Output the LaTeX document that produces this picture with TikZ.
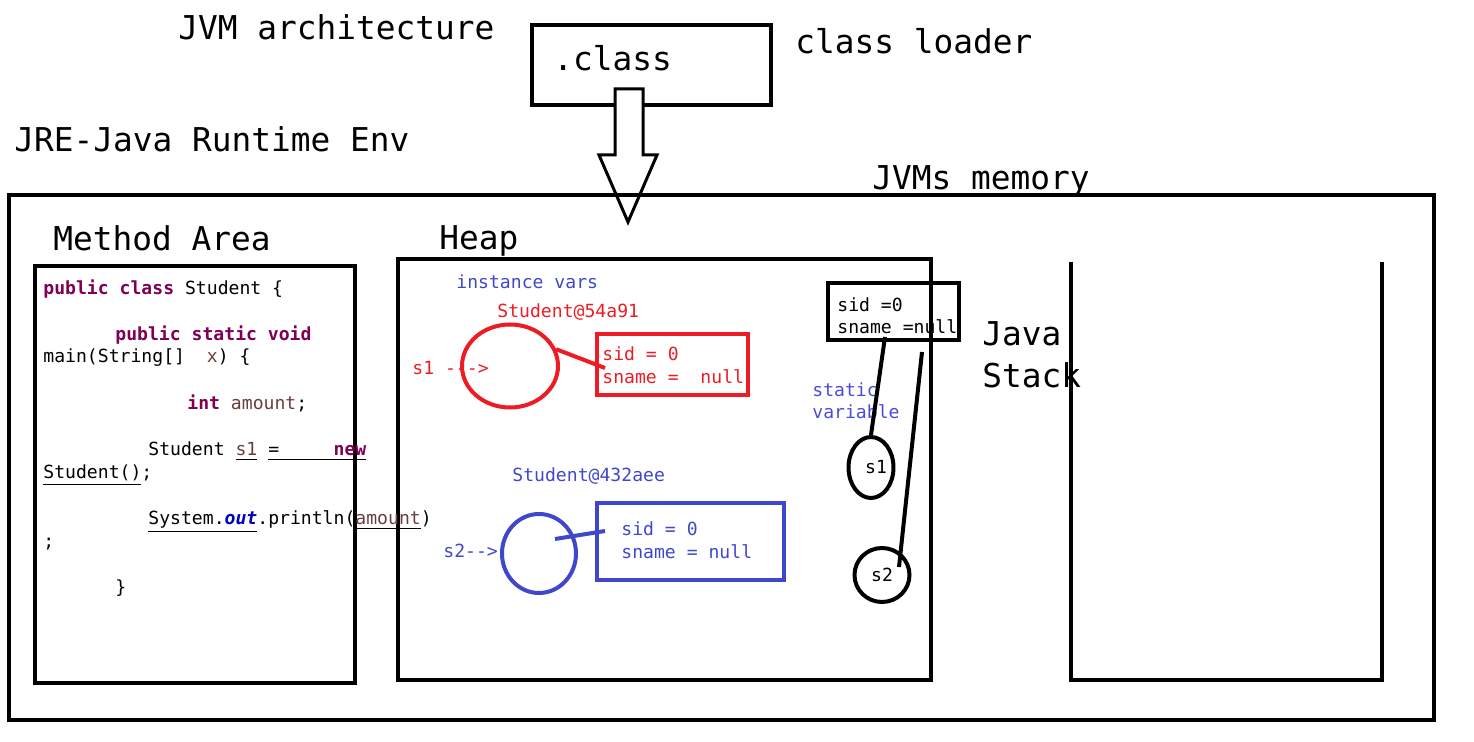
\documentclass[tikz,border=0pt]{standalone}
\usepackage{fontspec}
\setmonofont{DejaVu Sans Mono}
\usetikzlibrary{shapes.geometric, positioning}

\definecolor{heapred}{HTML}{ED1C24}
\definecolor{heapblue}{HTML}{3F48CC}
\definecolor{statblue}{HTML}{4B4BDB}
\definecolor{kwpurple}{HTML}{7F0055}
\definecolor{varbrown}{HTML}{6A3E3E}
\definecolor{fieldblue}{HTML}{0000C0}

\tikzset{
    title/.style={font=\fontsize{16.4}{18}\selectfont\ttfamily, anchor=base west, inner sep=0},
    code/.style={font=\fontsize{9.05}{11.5}\selectfont\ttfamily, anchor=base west, inner sep=0},
    box/.style={draw, line width=2pt, inner sep=0, rectangle},
    obj/.style={draw, line width=2pt, inner sep=0, ellipse},
    link/.style={line width=2pt}
}

\begin{document}
\begin{tikzpicture}[x=0.5pt, y=-0.5pt]
    \useasboundingbox (0,0) rectangle (1474,742);

    % titles
    \node [title] (arch) at (178,40) {JVM architecture};
    \node [title] (jre) at (14,152) {JRE-Java Runtime Env};
    \node [title] (loader) at (795,54) {class loader};
    \node [title] (mem) at (872,190) {JVMs memory};

    % class loader input
    \node [box, minimum width=119.5pt, minimum height=40pt] (classbox) at (651.5,65) {};
    \node [title] (classtxt) at (553,71) {.class};
    \draw [line width=1.5pt, fill=white] (615,89) -- (643,89) -- (643,155) -- (657,155)
        -- (628,222) -- (599,155) -- (615,155) -- cycle;

    % memory areas
    \node [box, minimum width=712.5pt, minimum height=262.5pt] (membox) at (721.5,457.5) {};
    \node [box, minimum width=160pt, minimum height=208.5pt] (methodbox) at (195,474.5) {};
    \node [box, minimum width=266.5pt, minimum height=210.5pt] (heapbox) at (664.5,469.5) {};
    \draw [line width=2pt] (1071,262) -- (1071,680) -- (1382,680) -- (1382,262);
    \node [title] (methodlbl) at (53,251) {Method Area};
    \node [title] (heaplbl) at (439,250) {Heap};
    \node [title] (javalbl) at (982,346) {Java};
    \node [title] (stacklbl) at (982,388) {Stack};

    % source code
    \node [code] (c1) at (43,295) {\textcolor{kwpurple}{\textbf{public class}} Student \{};
    \node [code] (c2) at (115,341) {\textcolor{kwpurple}{\textbf{public static void}}};
    \node [code] (c3) at (43,363) {main(String[]\ \ \textcolor{varbrown}{x}) \{};
    \node [code] (c4) at (187,410) {\textcolor{kwpurple}{\textbf{int}} \textcolor{varbrown}{amount};};
    \node [code] (c5) at (148,456) {Student \underline{\textcolor{varbrown}{s1}} \underline{=\hspace{3.01em}\textcolor{kwpurple}{\textbf{new}}}};
    \node [code] (c6) at (43,479) {\underline{Student()};};
    \node [code] (c7) at (148,525) {\underline{System.\textcolor{fieldblue}{\textbf{\textit{out}}}}.println(\underline{\textcolor{varbrown}{amount}})};
    \node [code] (c8) at (43,548) {;};
    \node [code] (c9) at (115,594) {\}};

    % heap objects
    \node [code, heapblue] (instvars) at (456,289) {instance vars};
    \node [code, heapred] (addrA) at (497,318) {Student@54a91};
    \node [obj, heapred, minimum width=48pt, minimum height=41.5pt] (objA) at (510,366) {};
    \node [code, heapred] (s1ref) at (412,375) {s1 -{}-{}->};
    \node [box, heapred, minimum width=75.5pt, minimum height=30.5pt] (fieldsA) at (672,365) {};
    \node [code, heapred] (sidA) at (602,361) {sid = 0};
    \node [code, heapred] (snameA) at (602,384) {sname =\ \ null};
    \coordinate (endA) at (605,368);
    \draw [link, heapred] (objA.20) -- (endA);

    \node [code, heapblue] (addrB) at (512,482) {Student@432aee};
    \node [obj, heapblue, minimum width=37pt, minimum height=39.5pt] (objB) at (539,553.5) {};
    \node [code, heapblue] (s2ref) at (443,558) {s2-{}->};
    \node [box, heapblue, minimum width=93.5pt, minimum height=38.5pt] (fieldsB) at (690.5,541.5) {};
    \node [code, heapblue] (sidB) at (621,536) {sid = 0};
    \node [code, heapblue] (snameB) at (621,559) {sname = null};
    \coordinate (startB) at (555,539);
    \coordinate (endB) at (605,531);
    \draw [link, heapblue] (startB) -- (endB);

    % static variables
    \node [box, minimum width=65.5pt, minimum height=28.5pt] (statbox) at (893.5,311.5) {};
    \node [code] (statsid) at (837,312) {sid =0};
    \node [code] (statsname) at (837,334) {sname =null};
    \node [code, statblue] (statlbl) at (812,397) {static};
    \node [code, statblue] (varlbl) at (812,419) {variable};
    \node [obj, minimum width=22pt, minimum height=30.5pt, font=\fontsize{9.05}{11}\selectfont\ttfamily] (refS1) at (871,467.5) {\hspace{5pt}s1};
    \node [obj, minimum width=27.5pt, minimum height=27pt, font=\fontsize{9.05}{11}\selectfont\ttfamily] (refS2) at (882,575) {s2};
    \coordinate (tieS1) at (885,337);
    \coordinate (tieS2) at (922,352);
    \coordinate (endS2) at (899,567);
    \draw [link] (tieS1) -- (refS1.north);
    \draw [link] (tieS2) -- (endS2);
\end{tikzpicture}
\end{document}
